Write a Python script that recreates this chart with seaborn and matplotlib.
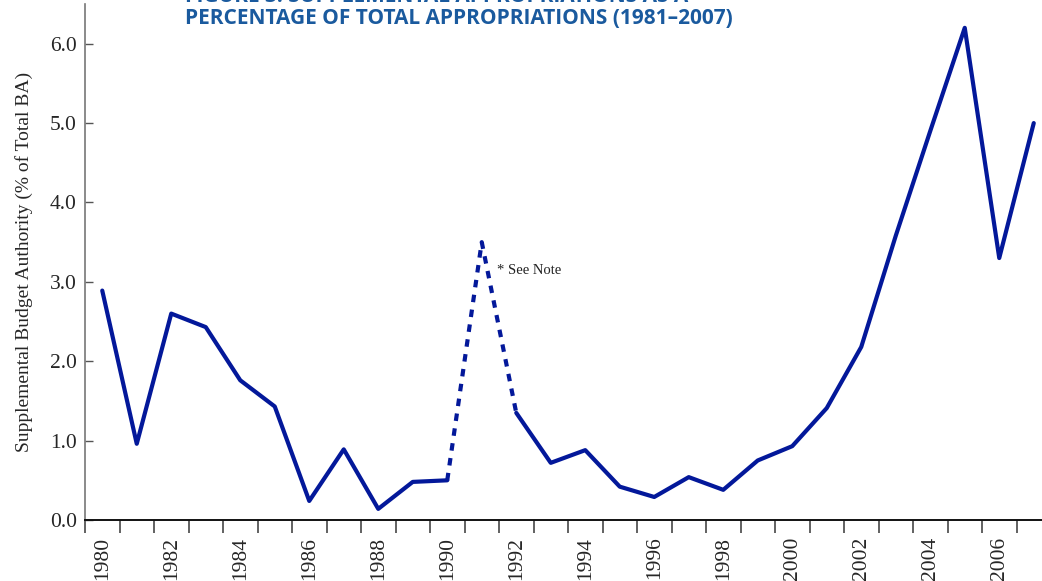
import pandas as pd
import matplotlib.pyplot as plt
import seaborn as sns

years = list(range(1980, 2008))
supp_pct = [2.89, 0.96, 2.60, 2.43, 1.76, 1.43, 0.24, 0.89, 0.14, 0.48,
            0.50, 3.50, 1.35, 0.72, 0.88, 0.42, 0.29, 0.54, 0.38, 0.75,
            0.93, 1.41, 2.18, 3.58, 4.90, 6.20, 3.30, 5.00]
dashed_years = [1990, 1991, 1992]  # Gulf War year, drawn dashed

title_lines = ["FIGURE 3: SUPPLEMENTAL APPROPRIATIONS AS A",
               "PERCENTAGE OF TOTAL APPROPRIATIONS (1981\u20132007)"]
ylabel = "Supplemental Budget Authority (% of Total BA)"
note = "* See Note"

df = pd.DataFrame({'Year': years, 'Pct': supp_pct})

sns.set_style('white')
plt.rcParams['font.family'] = ['Liberation Serif', 'DejaVu Serif']

fig = plt.figure(figsize=(10.42, 5.81), dpi=100)
ax = fig.add_axes([85 / 1042, 61 / 581, 966 / 1042, 516 / 581])

line_color = '#03189a'
lw = 3.0
first = df[df['Year'] <= dashed_years[0]]
mid = df[df['Year'].isin(dashed_years)]
last = df[df['Year'] >= dashed_years[-1]]
sns.lineplot(data=first, x='Year', y='Pct', ax=ax, color=line_color, lw=lw)
sns.lineplot(data=mid, x='Year', y='Pct', ax=ax, color=line_color, lw=lw,
             linestyle=(0, (1.8, 1.8)))
sns.lineplot(data=last, x='Year', y='Pct', ax=ax, color=line_color, lw=lw)

ax.set_xlim(years[0] - 0.5, years[-1] + 0.5)
ax.set_ylim(0, 6.5)

# labels on even years, tick marks on category boundaries
ax.set_xticks(years[::2])
ax.set_xticklabels([str(y) for y in years[::2]], rotation=90, fontsize=15.5)
ax.set_xticks([y - 0.5 for y in years] + [years[-1] + 0.5], minor=True)
ax.tick_params(axis='x', which='major', length=0, pad=12)
ax.tick_params(axis='x', which='minor', length=9, width=1.3, color='#555555',
               direction='out', bottom=True)

ax.set_yticks([0, 1, 2, 3, 4, 5, 6])
ax.set_yticklabels([f'{v:.1f}' for v in range(7)], fontsize=15.5)
ax.tick_params(axis='y', length=6, width=1, color='#555555',
               direction='in', left=True, pad=6)

ax.set_xlabel('')
ax.set_ylabel(ylabel, fontsize=14, labelpad=12)

for side in ['top', 'right']:
    ax.spines[side].set_visible(False)
ax.spines['left'].set_color('#777777')
ax.spines['left'].set_linewidth(1.2)
ax.spines['bottom'].set_color('#111111')
ax.spines['bottom'].set_linewidth(1.4)

ax.text(1991.45, 3.1, note, fontsize=10.5, color='#222222')

fig.text(185 / 1042, 1 + 3 / 581, title_lines[0], fontsize=15,
         fontweight='bold', color='#1a5a9e', family='Open Sans',
         va='center', ha='left')
fig.text(185 / 1042, 1 - 18 / 581, title_lines[1], fontsize=15,
         fontweight='bold', color='#1a5a9e', family='Open Sans',
         va='center', ha='left')

fig.savefig('out.png', dpi=100)
